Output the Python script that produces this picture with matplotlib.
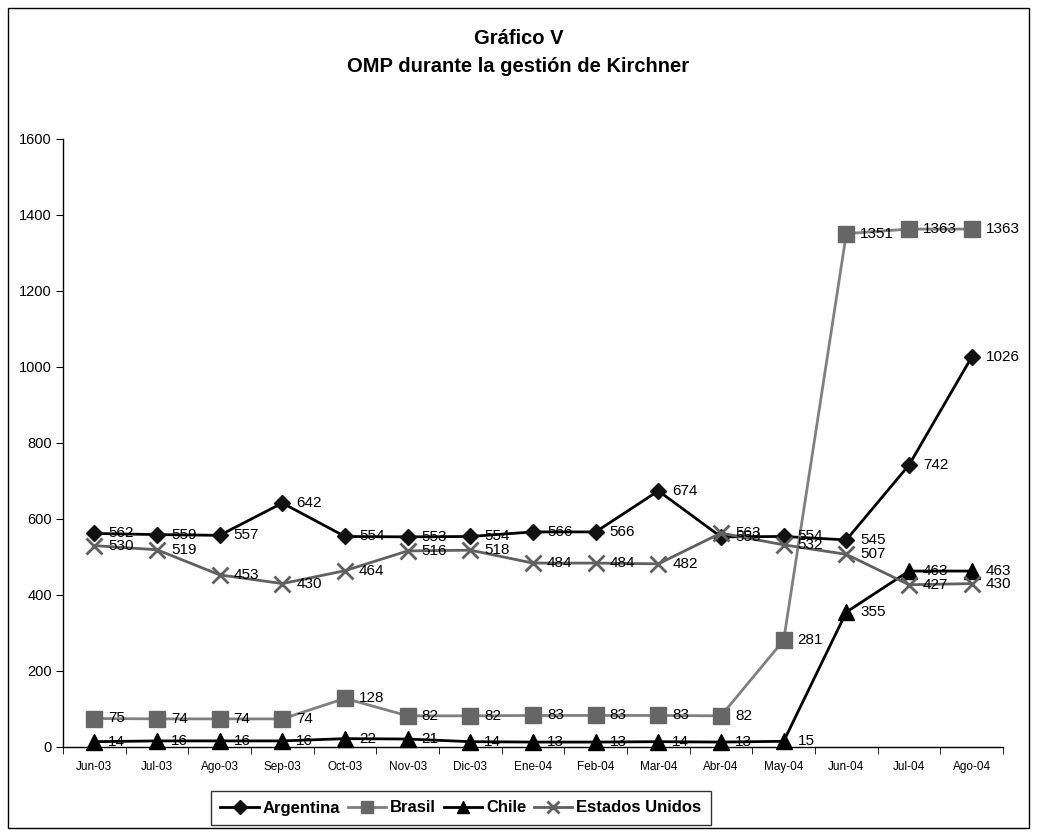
import matplotlib
matplotlib.use("Agg")
import matplotlib.pyplot as plt
from matplotlib.patches import Rectangle

months = ["Jun-03", "Jul-03", "Ago-03", "Sep-03", "Oct-03", "Nov-03", "Dic-03",
          "Ene-04", "Feb-04", "Mar-04", "Abr-04", "May-04", "Jun-04", "Jul-04", "Ago-04"]
argentina = [562, 559, 557, 642, 554, 553, 554, 566, 566, 674, 553, 554, 545, 742, 1026]
brasil = [75, 74, 74, 74, 128, 82, 82, 83, 83, 83, 82, 281, 1351, 1363, 1363]
chile = [14, 16, 16, 16, 22, 21, 14, 13, 13, 14, 13, 15, 355, 463, 463]
estados_unidos = [530, 519, 453, 430, 464, 516, 518, 484, 484, 482, 563, 532, 507, 427, 430]

plt.rcParams['font.family'] = ['Liberation Sans', 'DejaVu Sans']

W, H = 1037, 835
fig = plt.figure(figsize=(W / 100, H / 100), dpi=100)
fig.patch.set_facecolor("white")

# outer border
fig.add_artist(Rectangle((8 / W, 7 / H), (1029 - 8) / W, (828 - 8) / H,
                         transform=fig.transFigure, fill=False, edgecolor="black", lw=1))

ax_l, ax_r = 63, 1003
ax_t, ax_b = 139, 747
ax = fig.add_axes([ax_l / W, 1 - ax_b / H, (ax_r - ax_l) / W, (ax_b - ax_t) / H])

x = list(range(len(months)))
series = [
    ("Argentina", argentina, dict(color="black", marker="D", markersize=8, mfc="#111111", mec="#111111", lw=2)),
    ("Brasil", brasil, dict(color="#808080", marker="s", markersize=11, mfc="#666666", mec="#666666", lw=2)),
    ("Chile", chile, dict(color="black", marker="^", markersize=11, mfc="black", mec="black", lw=2)),
    ("Estados Unidos", estados_unidos, dict(color="#606060", marker="x", markersize=11, mew=2, mec="#606060", lw=2)),
]
handles = []
for name, vals, st in series:
    h, = ax.plot(x, vals, label=name, clip_on=False, zorder=3, **st)
    handles.append(h)
    for xi, v in zip(x, vals):
        ax.annotate(str(v), (xi, v), xytext=(10, 0), textcoords="offset points",
                    ha="left", va="center", fontsize=11, color="black", zorder=4)

ax.set_xlim(-0.5, len(months) - 0.5)
ax.set_ylim(0, 1600)
ax.set_yticks(range(0, 1601, 200))
ax.set_yticklabels([str(v) for v in range(0, 1601, 200)], fontsize=10.5)
ax.set_xticks(x)
ax.set_xticklabels(months, fontsize=8.5)
ax.set_xticks([i - 0.5 for i in range(len(months) + 1)], minor=True)
ax.tick_params(axis="x", which="major", length=0, pad=10)
ax.tick_params(axis="x", which="minor", length=5, direction="out")
ax.tick_params(axis="y", length=5, direction="out", pad=3)
for s in ["top", "right"]:
    ax.spines[s].set_visible(False)
for s in ["left", "bottom"]:
    ax.spines[s].set_color("black")
    ax.spines[s].set_linewidth(1)

fig.text(0.5, 1 - 38 / H, "Gráfico V", ha="center", va="center", fontsize=14.5, fontweight="bold")
fig.text(0.5, 1 - 66 / H, "OMP durante la gestión de Kirchner", ha="center", va="center",
         fontsize=14.5, fontweight="bold")

leg = fig.legend(handles=handles, loc="center", bbox_to_anchor=(461 / W, 1 - 808 / H),
                 ncol=4, frameon=True, fancybox=False, edgecolor="black",
                 prop=dict(size=12, weight="bold"),
                 handlelength=2.3, handletextpad=0.25,
                 columnspacing=0.45, borderpad=0.55, markerscale=0.85)
leg.get_frame().set_linewidth(1)

fig.savefig("out.png", dpi=100, facecolor="white")
